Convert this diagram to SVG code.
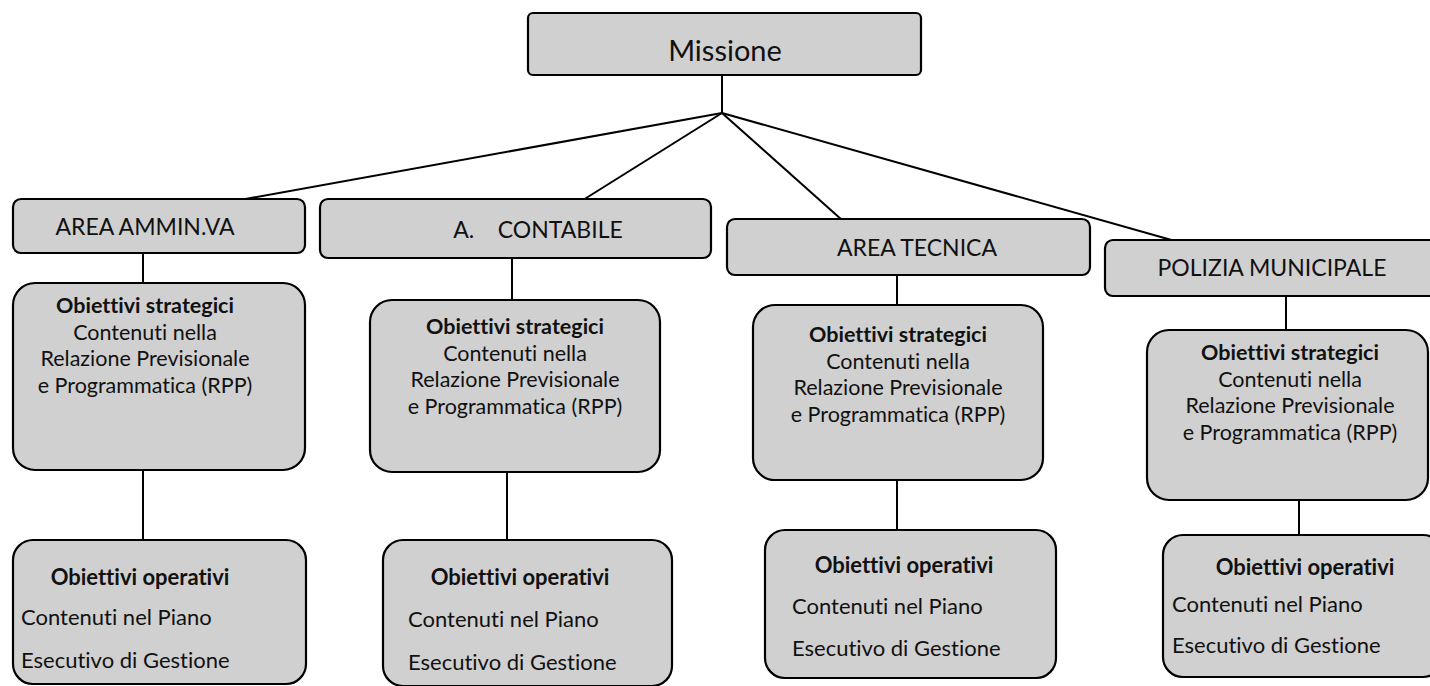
<svg xmlns="http://www.w3.org/2000/svg" width="1430" height="686" viewBox="0 0 1430 686">
<style>
.box{fill:#d0d0d0;stroke:#000;stroke-width:2.2}
.t{font-family:Lato,"Open Sans",sans-serif;fill:#111;font-variant-ligatures:none}
.area{font-size:23px;text-anchor:middle}
.b{font-size:21.5px;font-weight:bold;text-anchor:middle}
.r{font-size:21.5px;text-anchor:middle}
.l{font-size:22px}
.ob{font-size:22px;font-weight:bold;text-anchor:middle}
.conn line{stroke:#000;stroke-width:2}
</style>
<g class="conn">
<line x1="722" y1="75" x2="722" y2="113"/>
<line x1="722" y1="113" x2="240" y2="200"/>
<line x1="722" y1="113" x2="583" y2="200"/>
<line x1="722" y1="113" x2="842" y2="220"/>
<line x1="722" y1="113" x2="1175" y2="241"/>
<line x1="143" y1="253" x2="143" y2="283"/>
<line x1="143" y1="470" x2="143" y2="540"/>
<line x1="512" y1="258" x2="512" y2="300"/>
<line x1="507" y1="472" x2="507" y2="540"/>
<line x1="897" y1="275" x2="897" y2="305"/>
<line x1="897" y1="480" x2="897" y2="530"/>
<line x1="1286" y1="296" x2="1286" y2="330"/>
<line x1="1299" y1="500" x2="1299" y2="535"/>
</g>
<g id="missione">
<rect class="box" x="528" y="13" width="393" height="62" rx="5"/>
<text class="t" x="725" y="61" font-size="29" text-anchor="middle">Missione</text>
</g>
<g id="area-ammin">
<rect class="box" x="13" y="199" width="292" height="54" rx="8"/>
<text class="t area" x="145" y="235">AREA AMMIN.VA</text>
</g>
<g id="area-contabile">
<rect class="box" x="320" y="199" width="391" height="59" rx="8"/>
<text class="t area" x="538" y="238" xml:space="preserve">A.    CONTABILE</text>
</g>
<g id="area-tecnica">
<rect class="box" x="727" y="219" width="363" height="56" rx="8"/>
<text class="t area" x="917" y="256">AREA TECNICA</text>
</g>
<g id="polizia">
<rect class="box" x="1105" y="240" width="335" height="56" rx="8"/>
<text class="t area" x="1272" y="276">POLIZIA MUNICIPALE</text>
</g>
<g id="strat-ammin">
<rect class="box" x="13" y="283" width="292" height="187" rx="22"/>
<text class="t b" x="145" y="313">Obiettivi strategici</text>
<text class="t r" x="145" y="339.5">Contenuti nella</text>
<text class="t r" x="145" y="366">Relazione Previsionale</text>
<text class="t r" x="145" y="392.5">e Programmatica (RPP)</text>
</g>
<g id="strat-contabile">
<rect class="box" x="370" y="300" width="290" height="172" rx="22"/>
<text class="t b" x="515" y="334">Obiettivi strategici</text>
<text class="t r" x="515" y="360.5">Contenuti nella</text>
<text class="t r" x="515" y="387">Relazione Previsionale</text>
<text class="t r" x="515" y="413.5">e Programmatica (RPP)</text>
</g>
<g id="strat-tecnica">
<rect class="box" x="753" y="305" width="290" height="175" rx="22"/>
<text class="t b" x="898" y="342">Obiettivi strategici</text>
<text class="t r" x="898" y="368.5">Contenuti nella</text>
<text class="t r" x="898" y="395">Relazione Previsionale</text>
<text class="t r" x="898" y="421.5">e Programmatica (RPP)</text>
</g>
<g id="strat-polizia">
<rect class="box" x="1147" y="330" width="281" height="170" rx="22"/>
<text class="t b" x="1290" y="360">Obiettivi strategici</text>
<text class="t r" x="1290" y="386.5">Contenuti nella</text>
<text class="t r" x="1290" y="413">Relazione Previsionale</text>
<text class="t r" x="1290" y="439.5">e Programmatica (RPP)</text>
</g>
<g id="oper-ammin">
<rect class="box" x="13" y="540" width="293" height="144" rx="20"/>
<text class="t ob" x="140" y="585">Obiettivi operativi</text>
<text class="t l" x="21" y="625">Contenuti nel Piano</text>
<text class="t l" x="21" y="668">Esecutivo di Gestione</text>
</g>
<g id="oper-contabile">
<rect class="box" x="383" y="540" width="289" height="146" rx="20"/>
<text class="t ob" x="520" y="585">Obiettivi operativi</text>
<text class="t l" x="408" y="627">Contenuti nel Piano</text>
<text class="t l" x="408" y="670">Esecutivo di Gestione</text>
</g>
<g id="oper-tecnica">
<rect class="box" x="765" y="530" width="291" height="148" rx="20"/>
<text class="t ob" x="904" y="573">Obiettivi operativi</text>
<text class="t l" x="792" y="614">Contenuti nel Piano</text>
<text class="t l" x="792" y="656">Esecutivo di Gestione</text>
</g>
<g id="oper-polizia">
<rect class="box" x="1163" y="535" width="280" height="142" rx="20"/>
<text class="t ob" x="1305" y="575">Obiettivi operativi</text>
<text class="t l" x="1172" y="612">Contenuti nel Piano</text>
<text class="t l" x="1172" y="653">Esecutivo di Gestione</text>
</g>
</svg>
